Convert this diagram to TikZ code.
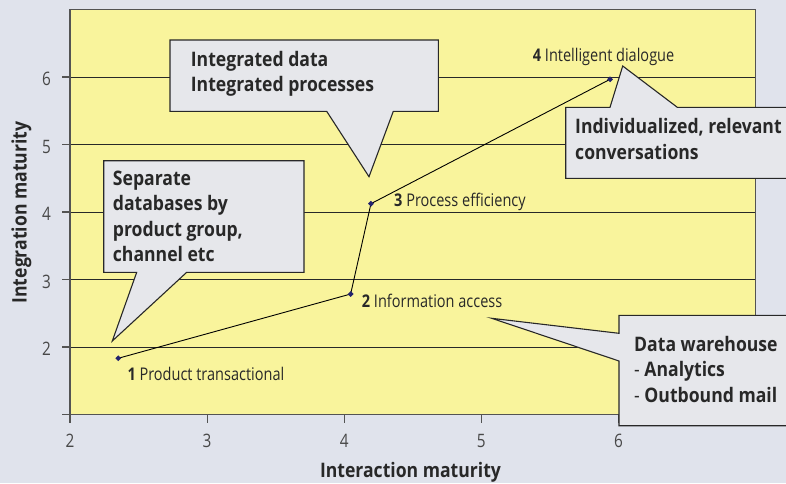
\documentclass[tikz,border=0pt]{standalone}
\usepackage{fontspec}
\setmainfont{Open Sans}
\newfontfamily\labfont[FakeStretch=0.83]{Open Sans}
\newfontfamily\boxfont[FakeStretch=0.88]{Open Sans}
\usetikzlibrary{shapes.geometric}
\usepackage{xcolor}

\definecolor{bggray}{RGB}{224,227,236}
\definecolor{plotyellow}{RGB}{249,244,156}
\definecolor{calloutgray}{RGB}{230,231,235}
\definecolor{inkgray}{RGB}{40,40,40}
\definecolor{marknavy}{RGB}{35,35,110}

\tikzset{
  gridline/.style={inkgray, line width=.9pt},
  axisline/.style={inkgray!80, line width=1.2pt},
  trend/.style={black, line width=.9pt},
  ptmark/.style={diamond, fill=marknavy, inner sep=0pt, minimum size=6pt},
  ptlabel/.style={font=\labfont\fontsize{17.5}{20}\selectfont, text=inkgray, inner sep=0pt, anchor=base west},
  ticklab/.style={font=\labfont\fontsize{18.5}{22}\selectfont, text=inkgray!85, inner sep=0pt},
  axtitle/.style={font=\boxfont\bfseries\fontsize{20}{24}\selectfont, text=inkgray, inner sep=0pt},
  callout/.style={fill=calloutgray, draw=inkgray, line width=1.1pt, line join=miter},
  calltext/.style={font=\boxfont\bfseries\fontsize{20}{25.5}\selectfont, text=inkgray, align=left, inner sep=0pt, anchor=north west}
}

\begin{document}
\begin{tikzpicture}[x=1pt, y=-1pt]
\fill[bggray] (0,0) rectangle (786,483);
\useasboundingbox (0,0) rectangle (786,483);

% plot area, data coordinates
\begin{scope}[shift={(-204.2,482)}, x=137.1pt, y=67.5pt]
\fill[plotyellow] (2,1) rectangle (7,7);
\foreach \y in {2,...,6} \draw[gridline] (2,\y) -- (7,\y);
\foreach \y in {1,...,6} {
 \draw[axisline] (2,\y) --++(-8pt,0pt);
}
\foreach \x in {2,...,6} {
 \draw[axisline] (\x,1) --++(0pt,-8pt);
}
\draw[axisline] (2,1) rectangle (7,7);

\coordinate (p1) at (2.352,1.833);
\coordinate (p2) at (4.047,2.785);
\coordinate (p3) at (4.195,4.123);
\coordinate (p4) at (5.939,5.966);
\draw[trend] (p1) -- (p2) -- (p3) -- (p4);
\foreach \i in {1,...,4} \node[ptmark] (m\i) at (p\i) {};
\end{scope}

% tick numbers
\foreach \x/\px in {2/70,3/207.1,4/344.2,5/481.3,6/618.4}
 \node[ticklab, anchor=base] (tx\x) at (\px,447) {\x};
\foreach \y/\py in {2/347,3/279.5,4/212,5/144.5,6/77}
 \node[ticklab, anchor=base east] (ty\y) at (51,\py+8.5) {\y};

\node[ptlabel] (l1) at (127.3,380.7) {\textbf{1} Product transactional};
\node[ptlabel] (l2) at (361.7,307.7) {\textbf{2} Information access};
\node[ptlabel] (l3) at (394,206.7) {\textbf{3} Process efficiency};
\node[ptlabel] (l4) at (532.7,61.7) {\textbf{4} Intelligent dialogue};

% callouts
\draw[callout] (170,40) -- (438.3,40) -- (438.3,111.3) -- (393.3,111.3) -- (369,176.7)
  -- (326.7,111.3) -- (170,111.3) -- cycle;
\draw[callout] (103.7,160.7) -- (304,160.7) -- (304,272.3) -- (186.7,272.3) -- (112.3,341)
  -- (136.7,272.3) -- (103.7,272.3) -- cycle;
\draw[callout] (565.7,107.3) -- (610,107.3) -- (622.7,66) -- (677.3,107.3) -- (800,107.3)
  -- (800,178.3) -- (565.7,178.3) -- cycle;
\draw[callout] (619,315.3) -- (800,315.3) -- (800,425.7) -- (619,425.7) -- (619,361)
  -- (491.7,318.3) -- (619,333.3) -- cycle;

\node[calltext] (ca) at (190.7,51) {Integrated data\\Integrated processes};
\node[calltext] (cb) at (112.7,170.7) {Separate\\databases by\\product group,\\channel etc};
\node[calltext] (cc) at (575,118.3) {Individualized, relevant\\conversations};
\node[calltext] (cd) at (634,336) {Data warehouse\\{\mdseries -} Analytics\\{\mdseries -} Outbound mail};

% axis titles
\node[axtitle, anchor=base] (xt) at (410.5,477.3) {Interaction maturity};
\node[axtitle, anchor=base, rotate=90] (yt) at (26.7,212.5) {Integration maturity};
\end{tikzpicture}
\end{document}
